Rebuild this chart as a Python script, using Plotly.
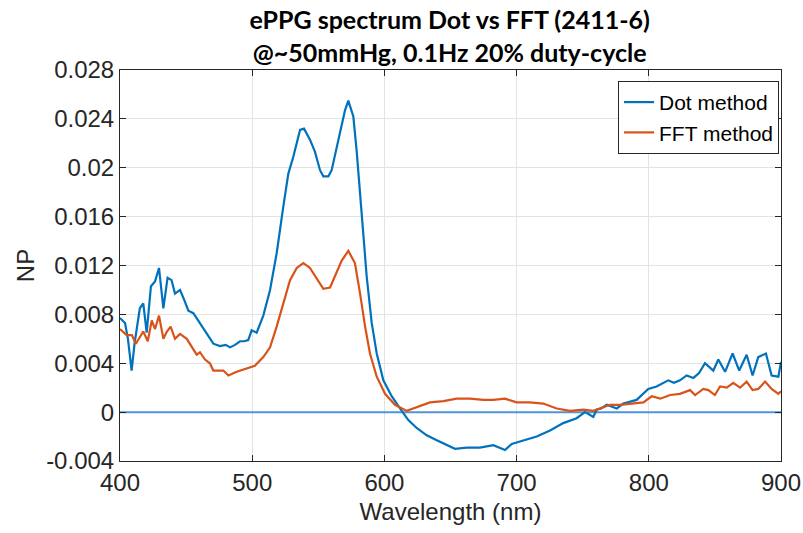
import plotly.graph_objects as go

# Dot-method spectrum (wavelength in nm, normalised power)
dot_wl = [400, 403.8, 406, 408.8, 411, 413, 415, 417.6, 420.2, 423.4, 426.5, 429.5,
          432.8, 436, 439, 441.6, 445.4, 448.5, 451.7, 455.5, 460.5, 465.6, 470.6,
          475.6, 480, 483.2, 487, 490.8, 494, 497, 499.6, 503.4, 508.4, 513.5, 518.5,
          523.5, 527.3, 531.1, 536.2, 539.2, 543.7, 547.5, 551.3, 553.8, 557.6, 560.1,
          565.2, 570.2, 572.7, 576.5, 579, 582.8, 586.6, 590.4, 594.2, 599.2, 605.5,
          611.8, 618.1, 624.4, 632, 639.6, 645.8, 653.4, 662.2, 672.3, 682.4, 691.2,
          696.3, 705, 715.2, 725.3, 735.3, 745.4, 751.7, 755, 758, 760.6, 764, 768.2,
          775.8, 780.7, 790.8, 799.6, 805.9, 814.7, 819, 823.6, 828.6, 833.7, 838,
          842.5, 848.8, 852.6, 857.7, 863.4, 868.4, 874, 878.5, 882.8, 888.6, 892.9,
          898, 900]
dot_np = [0.0077, 0.0073, 0.0060, 0.0034, 0.0056, 0.0070, 0.0085, 0.0089, 0.0065, 0.0103,
          0.0107, 0.0118, 0.0085, 0.0110, 0.0108, 0.0097, 0.0100, 0.0092, 0.0083, 0.0081,
          0.0073, 0.0064, 0.0056, 0.0054, 0.0055, 0.0053, 0.0055, 0.0058, 0.0058, 0.0059,
          0.0067, 0.0065, 0.0079, 0.0100, 0.0130, 0.0168, 0.0195, 0.0209, 0.0231, 0.0232,
          0.0223, 0.0213, 0.0198, 0.0193, 0.0193, 0.0198, 0.0223, 0.0247, 0.0255, 0.0242,
          0.0214, 0.0165, 0.0111, 0.0073, 0.0048, 0.0026, 0.0013, 0.0003, -0.00065,
          -0.0013, -0.0019, -0.0023, -0.0026, -0.0030, -0.0029, -0.0029, -0.0027,
          -0.0031, -0.0026, -0.0023, -0.0020, -0.0015, -0.0009, -0.0005, 0.0, -0.0002,
          -0.0004, 0.0002, 0.0003, 0.0006, 0.0003, 0.0007, 0.0010, 0.0019, 0.0021,
          0.0026, 0.0024, 0.0026, 0.0030, 0.0028, 0.0032, 0.0040, 0.0034, 0.0043,
          0.0033, 0.0048, 0.0034, 0.0047, 0.0030, 0.0045, 0.0048, 0.0030, 0.0029, 0.0041]

# FFT-method spectrum
fft_wl = [400, 405, 409, 412, 417.6, 421, 424, 426.5, 429.5, 432.8, 435.5, 438.3, 441.6,
          445.4, 450.5, 454.2, 458, 460.5, 464.3, 468, 470.6, 478.2, 482, 488.3, 495.8,
          502, 508.4, 513.5, 518.5, 523.5, 528.6, 533.7, 538.7, 543.7, 548.8, 553.8,
          558.9, 562.6, 567.7, 572.7, 577.7, 581.6, 585.4, 589.1, 594.2, 600.5, 608,
          616.9, 624.4, 634.5, 644.6, 654.7, 664.8, 674.8, 682.4, 691.2, 700, 710.1,
          720.2, 730.3, 740.4, 750.5, 758, 763.1, 770.6, 778.2, 785.8, 795.9, 802.2,
          808.6, 816.2, 823.6, 831.2, 835, 841.2, 845, 850, 853.9, 859, 863.9, 869, 874,
          878.5, 882.8, 888, 892.9, 898, 900]
fft_np = [0.0068, 0.0063, 0.0063, 0.0056, 0.0066, 0.0058, 0.0075, 0.0068, 0.0079, 0.0060,
          0.0066, 0.0070, 0.0060, 0.0064, 0.0060, 0.0053, 0.0047, 0.0049, 0.0043, 0.0040,
          0.0034, 0.0034, 0.0030, 0.0033, 0.0036, 0.0038, 0.0045, 0.0053, 0.0070, 0.0089,
          0.0108, 0.0118, 0.0122, 0.0118, 0.0109, 0.0101, 0.0102, 0.0111, 0.0124, 0.0132,
          0.0122, 0.0097, 0.0070, 0.0048, 0.0029, 0.0015, 0.0006, 0.0001, 0.0004, 0.0008,
          0.0009, 0.0011, 0.0011, 0.0010, 0.0010, 0.0011, 0.0008, 0.0008, 0.0007, 0.0003,
          0.0001, 0.0002, 0.0001, 0.0003, 0.0006, 0.0006, 0.0007, 0.0008, 0.0013, 0.0011,
          0.0014, 0.0015, 0.0018, 0.0014, 0.0019, 0.0018, 0.0014, 0.0021, 0.0020, 0.0024,
          0.0020, 0.0025, 0.0018, 0.0019, 0.0025, 0.0019, 0.0015, 0.0017]

x_ticks = [400, 500, 600, 700, 800, 900]
y_ticks = [-0.004, 0, 0.004, 0.008, 0.012, 0.016, 0.02, 0.024, 0.028]
y_tick_text = ["-0.004", "0", "0.004", "0.008", "0.012", "0.016", "0.02", "0.024", "0.028"]

AXIS_COL = "#262626"
GRID_COL = "#e3e3e3"
FONT = "Liberation Sans, Arial, sans-serif"

fig = go.Figure()
fig.add_trace(go.Scatter(x=dot_wl, y=dot_np, mode="lines", name="Dot method",
                         line=dict(color="#0072BD", width=2.2)))
fig.add_trace(go.Scatter(x=fft_wl, y=fft_np, mode="lines", name="FFT method",
                         line=dict(color="#D95319", width=2.2)))

# zero reference line across the full wavelength range (above grid, below traces)
fig.add_shape(type="line", xref="x", yref="y", x0=x_ticks[0], x1=x_ticks[-1], y0=0, y1=0,
              line=dict(color="#4d94d8", width=2), layer="between")

axis_common = dict(showline=True, linecolor=AXIS_COL, linewidth=1, mirror="ticks",
                   ticks="inside", ticklen=6, tickcolor=AXIS_COL, showgrid=True,
                   gridcolor=GRID_COL, gridwidth=1, zeroline=False, automargin=False,
                   tickfont=dict(family=FONT, size=24, color=AXIS_COL))

fig.update_xaxes(range=[400, 900], tickvals=x_ticks,
                 title=dict(text="Wavelength (nm)", font=dict(family=FONT, size=24, color=AXIS_COL),
                            standoff=8),
                 **axis_common)
fig.update_yaxes(range=[-0.004, 0.028], tickvals=y_ticks, ticktext=y_tick_text,
                 title=dict(text="NP", font=dict(family=FONT, size=24, color=AXIS_COL),
                            standoff=4),
                 **axis_common)

fig.update_layout(
    width=803, height=533,
    margin=dict(l=120, r=22, t=70, b=72),
    paper_bgcolor="white", plot_bgcolor="white",
    title=dict(text="<b>ePPG spectrum Dot vs FFT (2411-6)<br>@~50mmHg, 0.1Hz 20% duty-cycle</b>",
               x=0.56, xanchor="center", y=0.945, yanchor="top",
               font=dict(family="Lato, sans-serif", size=25, color="black")),
    legend=dict(x=0.997, y=0.972, xanchor="right", yanchor="top",
                bgcolor="white", bordercolor=AXIS_COL, borderwidth=1,
                font=dict(family=FONT, size=21, color="black"),
                itemwidth=30, tracegroupgap=0),
    showlegend=True,
)

fig.write_html("out.html")
